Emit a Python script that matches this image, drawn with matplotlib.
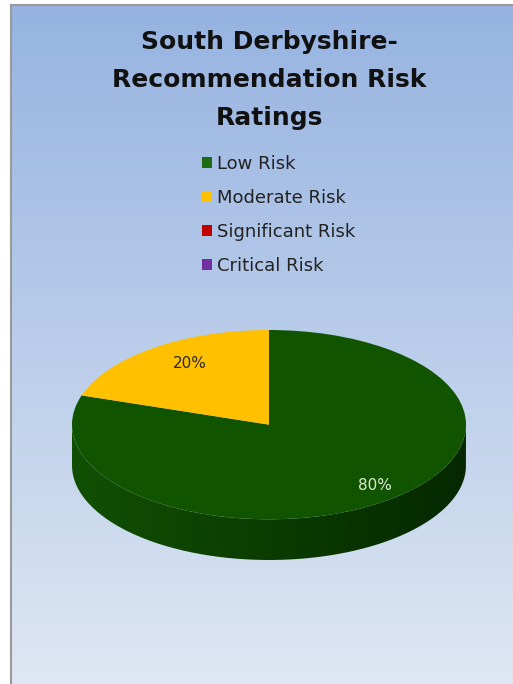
import matplotlib.pyplot as plt
import numpy as np
from matplotlib.path import Path
from matplotlib.patches import PathPatch
from matplotlib.transforms import ScaledTranslation

# ***** DATA *****
categories = ['Low Risk', 'Moderate Risk', 'Significant Risk', 'Critical Risk']
shares = [80, 20, 0, 0]
colours = ['#115400', '#FFC000', '#C00000', '#7030A0']
legendColours = ['#1E6B12', '#FFC000', '#C00000', '#7030A0']
labelColours = ['#D9EBD3', '#2A2A2A', '#2A2A2A', '#2A2A2A']
title = 'South Derbyshire-\nRecommendation Risk\nRatings'

W, H = 513, 684
fig = plt.figure(figsize=(W / 100, H / 100), dpi=100)
fig.patch.set_facecolor('white')

# ***** BACKGROUND *****
x0 = 11 / W
y1 = 1 - 5 / H
bg = fig.add_axes([x0, 0, 1 - x0, y1])
top = np.array([150, 179, 225]) / 255
bottom = np.array([222, 231, 243]) / 255
t = np.linspace(0, 1, 256)[:, None]
grad = (top * (1 - t) + bottom * t)[:, None, :]
bg.imshow(grad, extent=[0, 1, 0, 1], aspect='auto', origin='upper')
bg.set_xlim(0, 1)
bg.set_ylim(0, 1)
bg.set_xticks([])
bg.set_yticks([])
for side in ['right', 'bottom']:
    bg.spines[side].set_visible(False)
for side in ['left', 'top']:
    bg.spines[side].set_color('#9A9A9A')
    bg.spines[side].set_linewidth(1.5)

# ***** TITLE *****
fig.text(269 / W, 1 - 80 / H, title, ha='center', va='center',
         fontsize=18, fontweight='bold', color='#111111', linespacing=1.72)

# ***** PIE *****
depth = 0.43
pax = fig.add_axes([72 / W, 1 - 560 / H, 394 / W, 230 / H])
pax.patch.set_alpha(0)

# side of the cylinder (front half only)
th = np.linspace(np.pi, 2 * np.pi, 200)
xs = np.concatenate([np.cos(th), np.cos(th[::-1])])
ys = np.concatenate([np.sin(th), np.sin(th[::-1]) - depth])
sidePatch = PathPatch(Path(np.column_stack([xs, ys])), facecolor='none', edgecolor='none')
pax.add_patch(sidePatch)
left = np.array([17, 80, 3]) / 255
right = np.array([5, 40, 0]) / 255
s = np.linspace(0, 1, 256)[None, :, None]
sideGrad = left * (1 - s) + right * s
im = pax.imshow(sideGrad, extent=[-1, 1, -1 - depth, 0], aspect='auto', zorder=0)
im.set_clip_path(sidePatch)

wedges, texts, autotexts = pax.pie(
    shares, colors=colours, startangle=90, counterclock=False,
    autopct=lambda p: f'{p:.0f}%' if p > 0 else '', pctdistance=0.8,
    wedgeprops={'linewidth': 0}, textprops={'fontsize': 11})
shift = ScaledTranslation(13 / 100, 0, fig.dpi_scale_trans)
for txt, c in zip(autotexts, labelColours):
    txt.set_color(c)
    txt.set_transform(txt.get_transform() + shift)
for w in wedges:
    w.set_zorder(2)
pax.set_aspect('auto')
pax.set_xlim(-1, 1)
pax.set_ylim(-1 - depth, 1)
pax.axis('off')

# ***** LEGEND *****
handles = [plt.Rectangle((0, 0), 1, 1, facecolor=c) for c in legendColours]
fig.legend(handles, categories, loc='upper left', bbox_to_anchor=(202 / W, 1 - 155 / H),
           frameon=False, fontsize=13, handlelength=0.55, handleheight=0.55,
           handletextpad=0.3, labelspacing=0.88, labelcolor='#222222',
           borderaxespad=0, borderpad=0)

fig.savefig('out.png', dpi=100)
